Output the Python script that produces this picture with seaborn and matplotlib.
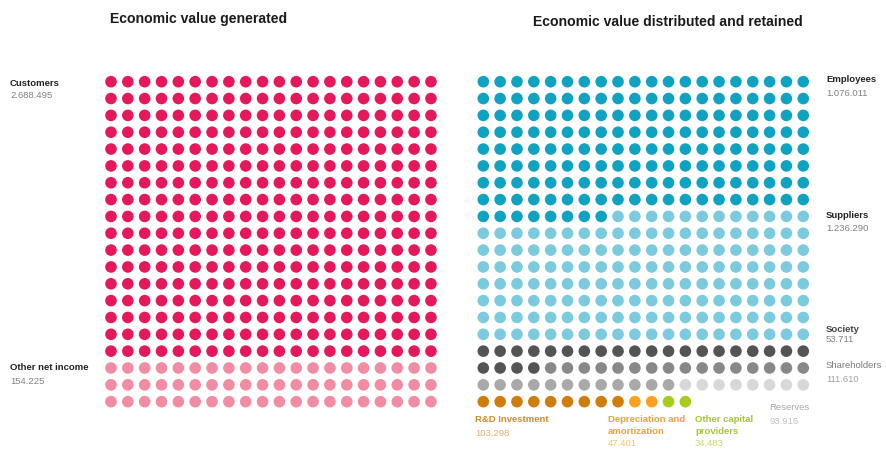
import matplotlib
matplotlib.use("Agg")
import matplotlib.pyplot as plt
import numpy as np
import pandas as pd
import seaborn as sns

# Dot counts per segment (each grid is 20 x 20 dots, filled row by row)
generated_names = ["Customers", "Other net income"]
generated_dots = [340, 60]
generated_values = ["2.688.495", "154.225"]
generated_colors = ["#e4185a", "#f28ca2"]

distributed_names = ["Employees", "Suppliers", "Society", "Shareholders",
                     "Shareholders (other)", "Reserves", "R&D Investment",
                     "Depreciation and amortization", "Other capital providers"]
distributed_dots = [168, 152, 24, 16, 12, 8, 9, 2, 2]
distributed_values = ["1.076.011", "1.236.290", "53.711", "111.610", "",
                      "93.916", "103.298", "47.401", "34.483"]
distributed_colors = ["#0fa2c1", "#7bcadd", "#545454", "#888888", "#a9a9a9",
                      "#d8d8d8", "#cf7d0c", "#ffa01e", "#a8cc1c"]

N_COLS = 20
N_ROWS = 20


def waffle_frame(names, dots):
    labels = np.repeat(names, dots)
    idx = np.arange(len(labels))
    return pd.DataFrame({"col": idx % N_COLS, "row": idx // N_COLS,
                         "segment": labels})


W, H = 887, 450
sns.set_theme(style="white")
plt.rcParams["font.family"] = ["Liberation Sans", "DejaVu Sans"]
fig = plt.figure(figsize=(W / 100, H / 100), dpi=100)
fig.patch.set_facecolor("white")

pitch = 16.84


def grid_axes(x0, y0):
    # x0, y0: centre of the top-left dot in pixels from the top-left corner
    left = x0 - pitch / 2
    top = y0 - pitch / 2
    size = pitch * N_COLS
    ax = fig.add_axes([left / W, 1 - (top + size) / H, size / W, size / H])
    return ax


ax_l = grid_axes(111.0, 81.7)
ax_r = grid_axes(483.3, 81.7)

for ax, names, dots, colors in [
    (ax_l, generated_names, generated_dots, generated_colors),
    (ax_r, distributed_names, distributed_dots, distributed_colors),
]:
    df = waffle_frame(names, dots)
    sns.scatterplot(data=df, x="col", y="row", hue="segment",
                    hue_order=names, palette=colors, s=70, linewidth=0,
                    legend=False, ax=ax)
    ax.set_xlim(-0.5, N_COLS - 0.5)
    ax.set_ylim(N_ROWS - 0.5, -0.5)
    ax.set_axis_off()


def ptext(x, y, s, **kw):
    fig.text(x / W, 1 - y / H, s, va="center", ha="left", **kw)


# Titles
ptext(110, 19, "Economic value generated", fontsize=10.1, fontweight="bold",
      color="#1a1a1a")
ptext(533, 22, "Economic value distributed and retained", fontsize=10.1,
      fontweight="bold", color="#1a1a1a")

NAME_C = "#222222"
NUM_C = "#808080"
lab = dict(fontsize=6.8)

# Left side labels
ptext(10, 83, "Customers", fontweight="bold", color=NAME_C, **lab)
ptext(10, 96, generated_values[0], color=NUM_C, **lab)
ptext(10, 368, "Other net income", fontweight="bold", color=NAME_C, **lab)
ptext(10, 381, generated_values[1], color=NUM_C, **lab)

# Right side labels
ptext(826, 80, "Employees", fontweight="bold", color=NAME_C, **lab)
ptext(826, 93, distributed_values[0], color=NUM_C, **lab)
ptext(826, 216, "Suppliers", fontweight="bold", color=NAME_C, **lab)
ptext(826, 229, distributed_values[1], color=NUM_C, **lab)
ptext(826, 329, "Society", fontweight="bold", color="#444444", **lab)
ptext(826, 340, distributed_values[2], color=NUM_C, **lab)
ptext(826, 366, "Shareholders", color="#7a7a7a", **lab)
ptext(826, 379, distributed_values[3], color="#a0a0a0", **lab)
ptext(769, 408, "Reserves", color="#a8a8a8", **lab)
ptext(769, 421, distributed_values[5], color="#c0c0c0", **lab)

# Bottom labels
ptext(475, 420, "R&D Investment", fontweight="bold", color="#d18a2c", **lab)
ptext(475, 433, distributed_values[6], color="#e0b070", **lab)
ptext(608, 420, "Depreciation and", fontweight="bold", color="#f5a030", **lab)
ptext(608, 432, "amortization", fontweight="bold", color="#f5a030", **lab)
ptext(608, 444, distributed_values[7], color="#f8c070", **lab)
ptext(695, 420, "Other capital", fontweight="bold", color="#a4c830", **lab)
ptext(695, 432, "providers", fontweight="bold", color="#a4c830", **lab)
ptext(695, 444, distributed_values[8], color="#c4dc70", **lab)

fig.savefig("out.png", dpi=100, facecolor="white")
